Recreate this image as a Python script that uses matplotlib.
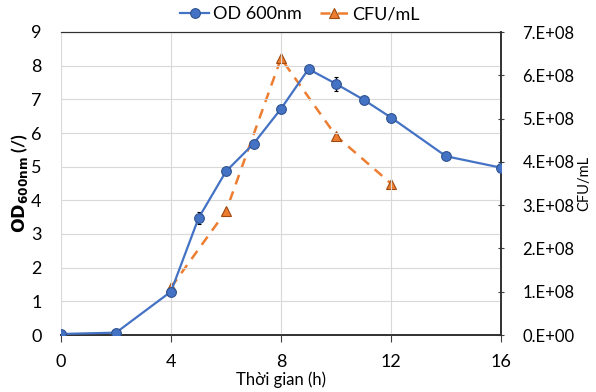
import matplotlib.pyplot as plt
from matplotlib.lines import Line2D
from matplotlib.ticker import FuncFormatter

plt.rcParams['font.family'] = ['Lato', 'DejaVu Sans']

time_od = [0, 2, 4, 5, 6, 7, 8, 9, 10, 11, 12, 14, 16]
od600 = [0.03, 0.07, 1.29, 3.47, 4.86, 5.68, 6.72, 7.90, 7.46, 6.99, 6.46, 5.31, 4.97]
od_err = [0.02, 0.02, 0.06, 0.18, 0.08, 0.12, 0.05, 0.05, 0.2, 0.05, 0.05, 0.04, 0.04]

time_cfu = [4, 6, 8, 10, 12]
cfu = [1.1e8, 2.86e8, 6.39e8, 4.6e8, 3.5e8]

blue = '#4472C4'
orange = '#ED7D31'

fig = plt.figure(figsize=(5.96, 3.92), dpi=100)
ax = fig.add_axes([61 / 596, 1 - 335 / 392, 440 / 596, 303 / 392])
ax2 = ax.twinx()

ax.errorbar(time_od, od600, yerr=od_err, color=blue, lw=1.6, marker='o',
            ms=7, mfc=blue, mec='#2F528F', mew=0.8, ecolor='black',
            elinewidth=1, capsize=1.5, zorder=3)
ax2.plot(time_cfu, cfu, color=orange, lw=1.8, ls=(0, (4, 3)), marker='^',
         ms=7, mfc=orange, mec='#9E4A12', mew=0.8)

ax.set_xlim(0, 16)
ax.set_ylim(0, 9)
ax2.set_ylim(0, 7e8)
ax.set_xticks([0, 4, 8, 12, 16])
ax.set_yticks(range(10))
ax2.set_yticks([i * 1e8 for i in range(8)])
ax2.yaxis.set_major_formatter(FuncFormatter(lambda v, p: '%d.E+08' % round(v / 1e8) if v > 0 else '0.E+00'))

ax.grid(True, color='#D9D9D9', lw=0.8)
ax.set_axisbelow(True)
ax.tick_params(axis='y', length=0, labelsize=13, pad=14)
ax.tick_params(axis='x', length=5, direction='out', labelsize=13, color='#404040', pad=9)
ax2.tick_params(axis='y', length=5, direction='inout', labelsize=12, color='#404040', pad=13)

for a in (ax, ax2):
    a.spines['left'].set_visible(False)
    a.spines['top'].set_color('#303030')
    a.spines['bottom'].set_color('#303030')
    a.spines['right'].set_color('#303030')
    a.spines['bottom'].set_linewidth(1.2)
    a.spines['right'].set_linewidth(1.2)
ax.set_zorder(2)
ax.patch.set_visible(False)

ax.set_ylabel(r'$\mathbf{OD_{600nm}}$ (/)', fontsize=12.5, fontweight='bold')
ax.yaxis.set_label_coords(-31 / 440, 0.5)
ax2.set_ylabel('CFU/mL', fontsize=10.5)
ax2.yaxis.set_label_coords(1 + 76 / 440, 0.5)
ax.set_xlabel('Thời gian (h)', fontsize=12, labelpad=1)

handles = [
    Line2D([], [], color=blue, lw=1.6, marker='o', ms=7, mfc=blue, mec='#2F528F', mew=0.8),
    Line2D([], [], color=orange, lw=1.8, ls=(0, (4, 3)), marker='^', ms=7, mfc=orange, mec='#9E4A12', mew=0.8),
]
fig.legend(handles, ['OD 600nm', 'CFU/mL'], loc='center', bbox_to_anchor=(300 / 596, 1 - 14 / 392),
           ncol=2, frameon=False, fontsize=13, handlelength=1.6, handletextpad=0.2,
           columnspacing=1.0, borderaxespad=0)

fig.savefig('out.png', dpi=100)
